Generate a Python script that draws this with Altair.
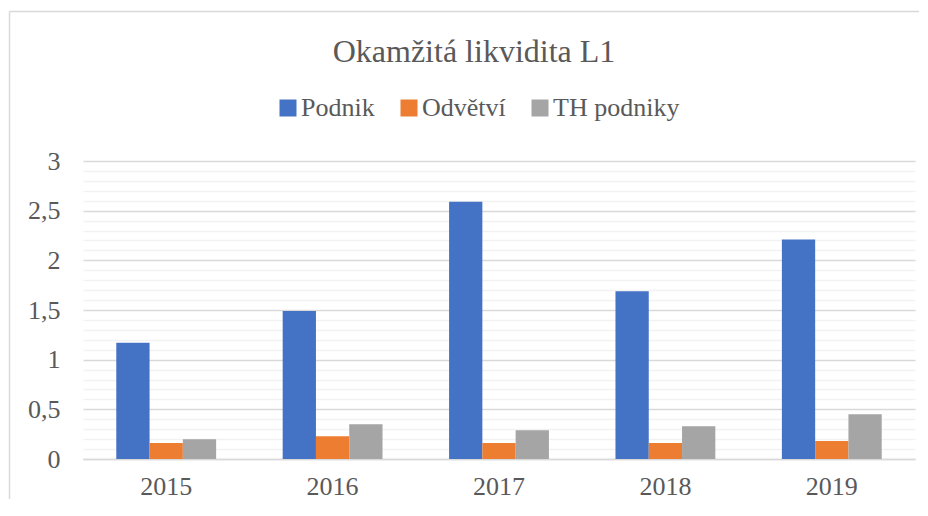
import altair as alt
import pandas as pd

years = ["2015", "2016", "2017", "2018", "2019"]
series = ["Podnik", "Odvětví", "TH podniky"]
podnik = [1.17, 1.49, 2.59, 1.69, 2.21]
odvetvi = [0.16, 0.23, 0.16, 0.16, 0.18]
th_podniky = [0.20, 0.35, 0.29, 0.33, 0.45]
colors = ["#4472C4", "#ED7D31", "#A5A5A5"]
y_ticks = [round(i * 0.1, 1) for i in range(31)]

rows = []
for i, y in enumerate(years):
    for s, vals in zip(series, [podnik, odvetvi, th_podniky]):
        rows.append({"Rok": y, "Řada": s, "Hodnota": vals[i]})
df = pd.DataFrame(rows)

FONT = "Liberation Serif"
TXT = "#595959"
MAJOR = "abs(datum.value*2 - round(datum.value*2)) < 0.001"

bars = alt.Chart(df).mark_bar().encode(
    x=alt.X("Rok:N", sort=years,
            scale=alt.Scale(paddingInner=0.4, paddingOuter=0.2),
            axis=alt.Axis(title=None, labelAngle=0, labelFont=FONT, labelFontSize=26,
                          labelColor=TXT, ticks=False, domainColor="#D9D9D9",
                          domainWidth=1.3, labelPadding=14, grid=False)),
    xOffset=alt.XOffset("Řada:N", sort=series, scale=alt.Scale(paddingInner=0, paddingOuter=0)),
    y=alt.Y("Hodnota:Q", scale=alt.Scale(domain=[0, 3], nice=False),
            axis=alt.Axis(title=None, values=y_ticks, domain=False, ticks=False,
                          labelFont=FONT, labelFontSize=26, labelColor=TXT,
                          labelPadding=23, labelOverlap=False,
                          labelExpr=MAJOR + " ? replace(format(datum.value, '.1~f'), '.', ',') : ''",
                          gridColor={"condition": {"test": MAJOR, "value": "#D9D9D9"}, "value": "#F2F2F2"},
                          gridWidth=1.3)),
    color=alt.Color("Řada:N", sort=series,
                    scale=alt.Scale(domain=series, range=colors),
                    legend=alt.Legend(title=None, orient="none", direction="horizontal",
                                      legendX=192, legendY=-66, symbolType="square",
                                      symbolSize=289, symbolStrokeWidth=0,
                                      labelFont=FONT, labelFontSize=26, labelColor=TXT,
                                      labelOffset=0, columnPadding=21, padding=0)),
)

top_line = alt.Chart(pd.DataFrame({"a": [0]})).mark_rule(
    stroke="#D9D9D9", strokeWidth=1.5
).encode(x=alt.value(-73.5), x2=alt.value(836), y=alt.value(-149.5))

left_line = alt.Chart(pd.DataFrame({"a": [0]})).mark_rule(
    stroke="#D9D9D9", strokeWidth=1.5
).encode(x=alt.value(-73.5), y=alt.value(-149.5), y2=alt.value(347))

chart = alt.layer(top_line, left_line, bars).properties(
    width=832, height=298,
    padding={"left": 75, "top": 153, "right": 5, "bottom": 40},
    autosize=alt.AutoSizeParams(type="none"),
    title=alt.TitleParams("Okamžitá likvidita L1", font=FONT, fontSize=32,
                          fontWeight="normal", color=TXT, anchor="middle",
                          dx=-25, offset=-58),
).configure(font=FONT).configure_view(stroke=None).configure_legend(labelFont=FONT)

chart.save("out.html", embed_options={"renderer": "svg", "actions": False})
